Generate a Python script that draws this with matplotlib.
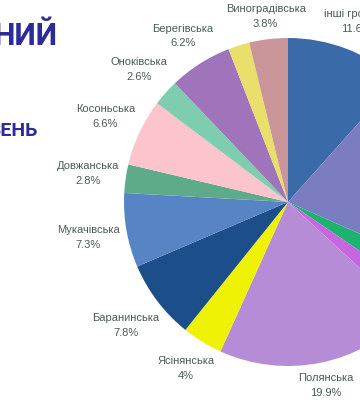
import math
import matplotlib
matplotlib.use("Agg")
import matplotlib.pyplot as plt

# частки громад (%), за годинниковою стрілкою від 12 години
names = ["інші громади", "", "", "", "Полянська", "Ясінянська", "Баранинська",
         "Мукачівська", "Довжанська", "Косоньська", "Оноківська", "Берегівська",
         "", "Виноградівська"]
shares = [11.6, 20.0, 2.9, 2.3, 19.9, 4.0, 7.8, 7.3, 2.8, 6.6, 2.6, 6.2, 2.1, 3.8]
colors = ["#3b6aa8", "#7b7cc2", "#1db36e", "#c766e0", "#b68cd6", "#f0f205",
          "#1c4f8a", "#5784c4", "#5eab8a", "#fcc4cd", "#7dcdae", "#9f74bb",
          "#ebdf6c", "#c99598"]

W, H = 360, 400
cx, cy, R = 288, 202, 164  # центр і радіус круга в пікселях

fig = plt.figure(figsize=(W / 100, H / 100), dpi=100)
ax = fig.add_axes([0, 0, 1, 1])

wedges, _ = ax.pie(shares, colors=colors, startangle=90, counterclock=False,
                   wedgeprops=dict(linewidth=0))
ax.set_aspect("auto")
ax.set_xlim(-cx / R, (W - cx) / R)
ax.set_ylim(-(H - cy) / R, cy / R)
ax.axis("off")

# підписи по радіусу сектора, трохи за краєм круга
texts = []
for w, name, v in zip(wedges, names, shares):
    if not name:
        continue
    ang = math.radians((w.theta1 + w.theta2) / 2)
    t = ax.text(0, 0, f"{name}\n{v:g}%", ha="center", va="center",
                multialignment="center", fontsize=8, color="#4a5a58",
                family="Liberation Sans", linespacing=1.6)
    texts.append((t, ang))

fig.canvas.draw()
r = fig.canvas.get_renderer()
for t, ang in texts:
    bb = t.get_window_extent(r)
    ux, uy = math.cos(ang), math.sin(ang)
    d = 1.035 + (abs(ux) * bb.width / 2 + abs(uy) * bb.height / 2) / R
    t.set_position((d * ux, d * uy))

fig.text(57 / W, 1 - 36 / H, "НИЙ", fontsize=22, fontweight="bold", color="#2d2a9a",
         family="Roboto", ha="right", va="center")
fig.text(38 / W, 1 - 131 / H, "ВЕНЬ", fontsize=14, fontweight="bold", color="#2d2a9a",
         family="Roboto", ha="right", va="center")

fig.savefig("out.png", dpi=100)
